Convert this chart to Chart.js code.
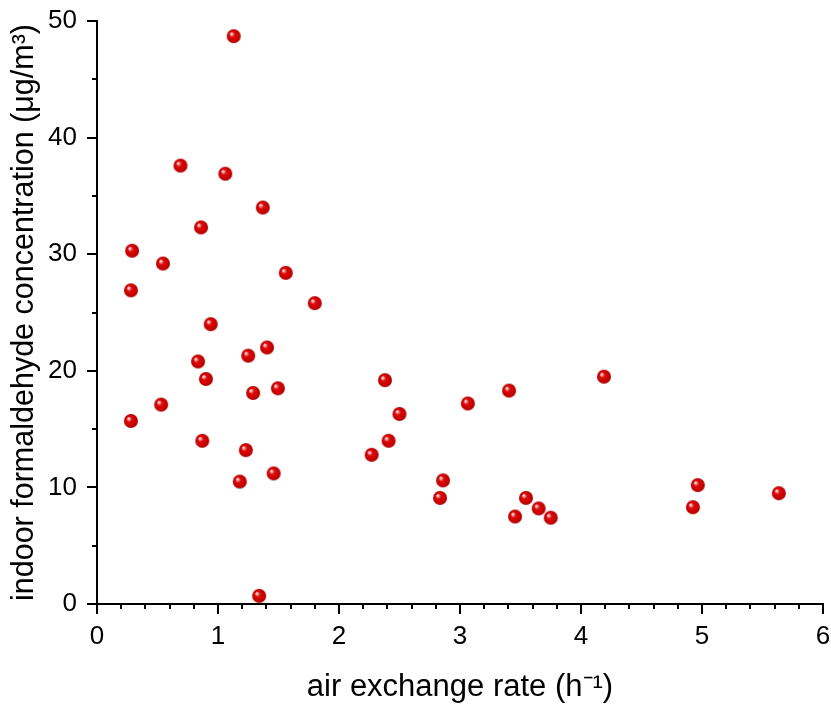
<!DOCTYPE html>
<html>
<head>
<meta charset="utf-8">
<script src="https://cdn.jsdelivr.net/npm/chart.js@4/dist/chart.umd.min.js"></script>
<style>
  html, body { margin: 0; padding: 0; background: #fff; }
  #wrap { width: 831px; height: 704px; }
</style>
</head>
<body>
<div id="wrap"><canvas id="chart" width="831" height="704"></canvas></div>
<script>
// air exchange rate (1/h) and indoor formaldehyde (ug/m3)
const airExchange = [
  1.13, 0.69, 1.06, 1.37, 0.86, 0.29, 0.545, 1.56, 0.28, 1.80,
  0.94, 1.405, 1.25, 0.835, 0.90, 1.495, 1.29, 0.53, 0.28, 0.87,
  1.23, 1.46, 1.18, 1.34, 2.38, 2.50, 2.41, 2.27, 3.065, 3.405,
  2.86, 2.835, 3.545, 3.65, 3.455, 3.75, 4.19, 4.965, 4.925, 5.635
];
const formaldehyde = [
  48.7, 37.6, 36.9, 34.0, 32.3, 30.3, 29.2, 28.4, 26.9, 25.8,
  24.0, 22.0, 21.3, 20.8, 19.3, 18.5, 18.1, 17.1, 15.7, 14.0,
  13.2, 11.2, 10.5, 0.7, 19.2, 16.3, 14.0, 12.8, 17.2, 18.3,
  10.6, 9.1, 9.1, 8.2, 7.5, 7.4, 19.5, 10.2, 8.3, 9.5
];

const xTicks = [0, 1, 2, 3, 4, 5, 6];
const yTicks = [0, 10, 20, 30, 40, 50];
const xMinorPerMajor = 5;
const yMinorPerMajor = 2;

const FONT = "'Liberation Sans', Arial, sans-serif";

// little shaded red ball like the original marker
function makeBall(r) {
  const size = r * 2 + 2;
  const c = document.createElement("canvas");
  c.width = size;
  c.height = size;
  const g = c.getContext("2d");
  const cx = size / 2, cy = size / 2;
  const grad = g.createRadialGradient(cx - r * 0.38, cy - r * 0.38, 0, cx, cy, r);
  grad.addColorStop(0, "#ffffff");
  grad.addColorStop(0.12, "#f6c4c4");
  grad.addColorStop(0.38, "#dc0a0a");
  grad.addColorStop(0.8, "#c80000");
  grad.addColorStop(1, "#a80000");
  g.fillStyle = grad;
  g.beginPath();
  g.arc(cx, cy, r, 0, Math.PI * 2);
  g.fill();
  return c;
}

const tickMarks = {
  id: "tickMarks",
  afterDraw(chart) {
    const { ctx } = chart;
    const xs = chart.scales.x;
    const ys = chart.scales.y;
    ctx.save();
    ctx.strokeStyle = "#000";
    ctx.lineWidth = 2;
    ctx.beginPath();
    const xStep = (xTicks[1] - xTicks[0]) / xMinorPerMajor;
    const nx = (xTicks[xTicks.length - 1] - xTicks[0]) / xStep;
    for (let i = 0; i <= Math.round(nx); i++) {
      const px = Math.round(xs.getPixelForValue(xTicks[0] + i * xStep));
      const len = i % xMinorPerMajor === 0 ? 10 : 5;
      ctx.moveTo(px, xs.top);
      ctx.lineTo(px, xs.top + len);
    }
    const yStep = (yTicks[1] - yTicks[0]) / yMinorPerMajor;
    const ny = (yTicks[yTicks.length - 1] - yTicks[0]) / yStep;
    for (let i = 0; i <= Math.round(ny); i++) {
      const py = Math.round(ys.getPixelForValue(yTicks[0] + i * yStep));
      const len = i % yMinorPerMajor === 0 ? 10 : 5;
      ctx.moveTo(ys.right, py);
      ctx.lineTo(ys.right - len, py);
    }
    ctx.stroke();
    ctx.restore();
  }
};

const points = airExchange.map((x, i) => ({ x: x, y: formaldehyde[i] }));

new Chart(document.getElementById("chart"), {
  type: "scatter",
  data: {
    datasets: [{
      data: points,
      pointStyle: makeBall(7),
      pointRadius: 7,
      pointHoverRadius: 7
    }]
  },
  plugins: [tickMarks],
  options: {
    responsive: false,
    animation: false,
    events: [],
    layout: { padding: { top: 21, right: 8, left: 0, bottom: 0 } },
    plugins: { legend: { display: false }, tooltip: { enabled: false } },
    scales: {
      x: {
        type: "linear",
        min: xTicks[0],
        max: xTicks[xTicks.length - 1],
        afterFit(scale) {
          scale.height = 100;
          scale.paddingLeft = 0;
          scale.paddingRight = 0;
        },
        afterBuildTicks(scale) { scale.ticks = xTicks.map(v => ({ value: v })); },
        grid: { display: true, drawOnChartArea: false, drawTicks: false },
        border: { display: true, color: "#000", width: 2 },
        ticks: {
          color: "#000",
          padding: 17,
          maxRotation: 0,
          font: { family: FONT, size: 26 },
          callback: v => String(v)
        },
        title: {
          display: true,
          text: "air exchange rate (h\u207B\u00B9)",
          color: "#000",
          font: { family: FONT, size: 31, lineHeight: 1 },
          padding: { top: 0, bottom: 1 }
        }
      },
      y: {
        type: "linear",
        min: yTicks[0],
        max: yTicks[yTicks.length - 1],
        afterFit(scale) {
          scale.width = 97;
          scale.paddingTop = 0;
          scale.paddingBottom = 0;
        },
        afterBuildTicks(scale) { scale.ticks = yTicks.map(v => ({ value: v })); },
        grid: { display: true, drawOnChartArea: false, drawTicks: false },
        border: { display: true, color: "#000", width: 2 },
        ticks: {
          color: "#000",
          padding: 20,
          font: { family: FONT, size: 26 },
          callback: v => String(v)
        },
        title: {
          display: true,
          text: "indoor formaldehyde concentration (\u03BCg/m\u00B3)",
          color: "#000",
          font: { family: FONT, size: 30.5, lineHeight: 1 },
          padding: { top: 9, bottom: 0 }
        }
      }
    }
  }
});
</script>
</body>
</html>
